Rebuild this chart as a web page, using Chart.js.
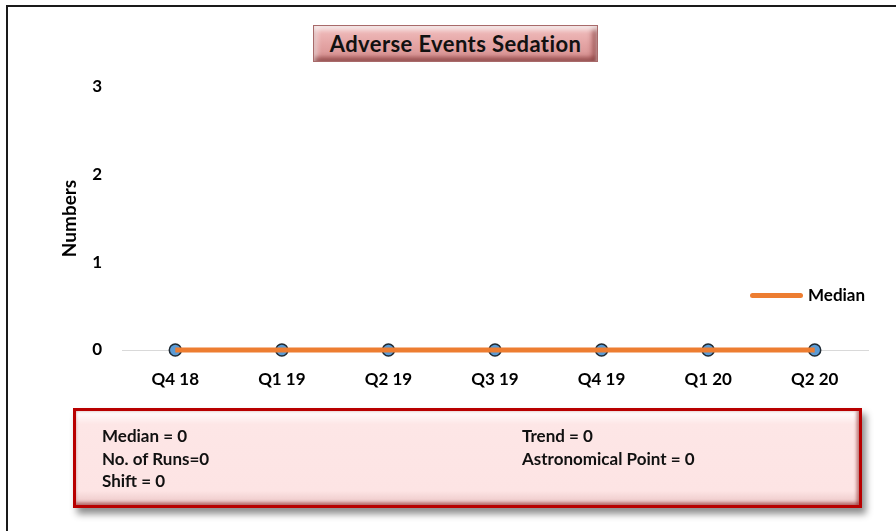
<!DOCTYPE html>
<html>
<head>
<meta charset="utf-8">
<script src="https://cdn.jsdelivr.net/npm/chart.js@4.4.1/dist/chart.umd.min.js"></script>
<style>
html,body{margin:0;padding:0;background:#fff}
#wrap{position:relative;width:896px;height:531px;overflow:hidden;font-family:Lato,"Open Sans",sans-serif}
#frame{position:absolute;left:6px;top:5px;width:900px;height:540px;border-top:2px solid #1a1a1a;border-left:2px solid #1a1a1a}
#c{position:absolute;left:0;top:0}
#ttl{position:absolute;left:313px;top:25px;width:285px;height:37px;box-sizing:border-box;border:1px solid #a86a6a;
  background:linear-gradient(#f2c0c0,#e3a3a3 55%,#d69090);box-shadow:inset 0 4px 4px rgba(255,255,255,.7),inset 0 -4px 4px rgba(110,30,30,.5),inset 4px 0 4px rgba(255,255,255,.45),inset -5px 0 5px rgba(110,30,30,.5);
  font-weight:bold;font-size:22px;letter-spacing:.4px;line-height:35px;text-align:center;color:#111}
#leg{position:absolute;left:750px;top:284px;font-weight:bold;font-size:17px;color:#000}
#leg i{display:inline-block;width:53px;height:5px;border-radius:3px;background:#ED7D31;vertical-align:middle;margin-right:5px;position:relative;top:-1px}
#box{position:absolute;left:73px;top:408px;width:789px;height:100px;box-sizing:border-box;border:3px solid #b80000;
  background:linear-gradient(#fff 0,#fde6e6 14%,#fde4e4 85%,#eac4c4);box-shadow:4px 6px 7px rgba(0,0,0,.45),inset 0 -3px 3px rgba(120,0,0,.35),inset -3px 0 3px rgba(120,0,0,.35);
  font-weight:bold;font-size:17px;color:#111}
#box div{position:absolute;line-height:22.5px}
</style>
</head>
<body>
<div id="wrap">
  <div id="frame"></div>
  <canvas id="c" width="896" height="531"></canvas>
  <div id="ttl">Adverse Events Sedation</div>
  <div id="leg"><i></i>Median</div>
  <div id="box">
    <div id="s1" style="left:26px;top:14px"></div>
    <div id="s2" style="left:446px;top:14px"></div>
  </div>
</div>
<script>
const quarters=['Q4 18','Q1 19','Q2 19','Q3 19','Q4 19','Q1 20','Q2 20'];
const events=[0,0,0,0,0,0,0];
const median=[0,0,0,0,0,0,0];
const yTicks=[0,1,2,3];
const statsLeft=['Median = 0','No. of Runs=0','Shift = 0'];
const statsRight=['Trend = 0','Astronomical Point = 0'];

document.getElementById('s1').innerHTML=statsLeft.join('<br>');
document.getElementById('s2').innerHTML=statsRight.join('<br>');

const fnt={family:'Lato, "Open Sans", sans-serif',size:17,weight:'bold'};

new Chart(document.getElementById('c'),{
  type:'line',
  data:{
    labels:quarters,
    datasets:[
      {label:'Median',data:median,borderColor:'#ED7D31',borderWidth:5,pointRadius:0,order:0,clip:false},
      {label:'Events',data:events,borderColor:'#5B9BD5',borderWidth:2,pointRadius:6,pointBackgroundColor:'#5B9BD5',pointBorderColor:'#1f2a33',pointBorderWidth:1.5,order:1,clip:false}
    ]
  },
  options:{
    responsive:false,animation:false,
    layout:{padding:{left:58,top:87,right:28,bottom:131}},
    plugins:{legend:{display:false},tooltip:{enabled:false}},
    scales:{
      x:{offset:true,grid:{display:false},border:{color:'#d9d9d9',width:1},
        ticks:{color:'#000',font:fnt,padding:11},
        afterFit:s=>{s.height=50}},
      y:{min:yTicks[0],max:yTicks[yTicks.length-1],grid:{display:false},border:{display:false},
        afterBuildTicks:s=>{s.ticks=yTicks.map(v=>({value:v}))},
        ticks:{color:'#000',font:fnt,padding:12},
        title:{display:true,text:'Numbers',color:'#000',font:{...fnt,size:19},padding:0},
        afterFit:s=>{s.width=64}}
    }
  }
});
</script>
</body>
</html>
